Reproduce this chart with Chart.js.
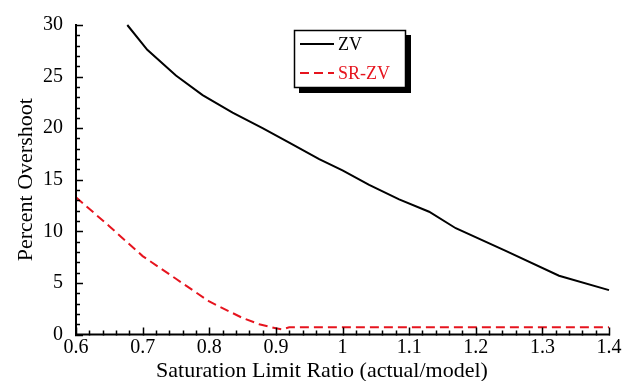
<!DOCTYPE html>
<html>
<head>
<meta charset="utf-8">
<script src="https://cdn.jsdelivr.net/npm/chart.js@4"></script>
<style>
  html, body { margin: 0; padding: 0; background: #fff; }
  #wrap { width: 634px; height: 381px; }
</style>
</head>
<body>
<div id="wrap"><canvas id="myChart" width="634" height="381"></canvas></div>
<script>
// values
const zvX = [0.677, 0.707, 0.75, 0.79, 0.835, 0.88, 0.92, 0.965, 1.0, 1.04, 1.085, 1.13, 1.17, 1.245, 1.325, 1.4];
const zvY = [30, 27.6, 25.1, 23.2, 21.5, 20.0, 18.6, 17.0, 15.9, 14.5, 13.1, 11.9, 10.3, 8.1, 5.7, 4.3];
const srX = [0.6, 0.65, 0.7, 0.75, 0.8, 0.85, 0.875, 0.9, 0.91, 0.92, 1.0, 1.1, 1.2, 1.3, 1.4];
const srY = [13.3, 10.5, 7.6, 5.4, 3.2, 1.6, 1.0, 0.6, 0.5, 0.7, 0.7, 0.7, 0.7, 0.7, 0.7];
const seriesNames = ['ZV', 'SR-ZV'];
const xTitle = 'Saturation Limit Ratio (actual/model)';
const yTitle = 'Percent Overshoot';

const RED = 'rgb(230,20,30)';
const FONT = 'Liberation Serif';

const pairs = (xs, ys) => xs.map((x, i) => ({x: x, y: ys[i]}));

// inward ticks, axis lines, x title and the boxed legend
const decor = {
    id: 'decor',
    afterDraw(chart) {
        const ctx = chart.ctx;
        const a = chart.chartArea;
        const xs = chart.scales.x, ys = chart.scales.y;
        ctx.save();
        ctx.strokeStyle = '#000';
        ctx.lineWidth = 2;
        ctx.beginPath();
        ctx.moveTo(a.left, a.top - 1);
        ctx.lineTo(a.left, a.bottom);
        ctx.lineTo(a.right + 1, a.bottom);
        ctx.stroke();

        ctx.lineWidth = 1.5;
        ctx.beginPath();
        for (let v = 0; v <= 30; v++) {
            const py = Math.round(ys.getPixelForValue(v)) + 0.5;
            const len = v % 5 === 0 ? 7 : 4;
            ctx.moveTo(a.left - 1, py);
            ctx.lineTo(a.left + len, py);
        }
        for (let i = 0; i <= 40; i++) {
            const px = Math.round(xs.getPixelForValue(0.6 + i * 0.02)) + 0.5;
            const len = i % 5 === 0 ? 7 : 4;
            ctx.moveTo(px, a.bottom + 1);
            ctx.lineTo(px, a.bottom - len);
        }
        ctx.stroke();

        // x axis title, sits a little left of the plot centre in the original
        ctx.fillStyle = '#000';
        ctx.font = '22px "' + FONT + '"';
        ctx.textAlign = 'center';
        ctx.textBaseline = 'alphabetic';
        ctx.fillText(xTitle, 322, 377);

        // legend box with drop shadow
        const bx = 294, by = 30, bw = 112, bh = 58;
        ctx.fillStyle = '#000';
        ctx.fillRect(bx + 5, by + 5, bw, bh);
        ctx.fillStyle = '#fff';
        ctx.fillRect(bx, by, bw, bh);
        ctx.lineWidth = 1.5;
        ctx.strokeRect(bx + 0.5, by + 0.5, bw - 1, bh - 1);

        const ds = chart.data.datasets;
        const rows = [44, 73];
        ctx.font = '18px "' + FONT + '"';
        ctx.textAlign = 'left';
        ctx.textBaseline = 'middle';
        ds.forEach((d, i) => {
            ctx.strokeStyle = d.borderColor;
            ctx.lineWidth = d.borderWidth;
            ctx.setLineDash(d.borderDash || []);
            ctx.beginPath();
            ctx.moveTo(300, rows[i]);
            ctx.lineTo(334, rows[i]);
            ctx.stroke();
            ctx.setLineDash([]);
            ctx.fillStyle = d.borderColor;
            ctx.fillText(d.label, 338, rows[i] + 1);
        });
        ctx.restore();
    }
};

const ctx = document.getElementById('myChart').getContext('2d');
const chart = new Chart(ctx, {
    type: 'line',
    data: {
        datasets: [{
            label: seriesNames[0],
            data: pairs(zvX, zvY),
            borderColor: '#000',
            borderWidth: 2,
            pointRadius: 0,
            tension: 0,
            clip: false
        }, {
            label: seriesNames[1],
            data: pairs(srX, srY),
            borderColor: RED,
            borderWidth: 2,
            borderDash: [9, 5],
            pointRadius: 0,
            tension: 0,
            clip: false
        }]
    },
    options: {
        responsive: false,
        animation: false,
        layout: { padding: { top: 23, right: 25, left: 0, bottom: 0 } },
        plugins: {
            legend: { display: false },
            tooltip: { enabled: false }
        },
        scales: {
            x: {
                type: 'linear',
                min: 0.6,
                max: 1.4,
                grid: { display: false, drawTicks: false },
                border: { display: false },
                ticks: {
                    stepSize: 0.1,
                    padding: 1,
                    color: '#000',
                    font: { family: FONT, size: 20 },
                    callback: v => String(+v.toFixed(1))
                },
                title: { display: false },
                afterFit: s => { s.height = 46.5; }
            },
            y: {
                min: 0,
                max: 30,
                grid: { display: false, drawTicks: false },
                border: { display: false },
                ticks: {
                    stepSize: 5,
                    padding: 13,
                    color: '#000',
                    font: { family: FONT, size: 20 }
                },
                title: {
                    display: true,
                    text: yTitle,
                    color: '#000',
                    font: { family: FONT, size: 22 },
                    padding: { top: 13, bottom: 0 }
                },
                afterFit: s => { s.width = 76; }
            }
        }
    },
    plugins: [decor]
});
</script>
</body>
</html>
